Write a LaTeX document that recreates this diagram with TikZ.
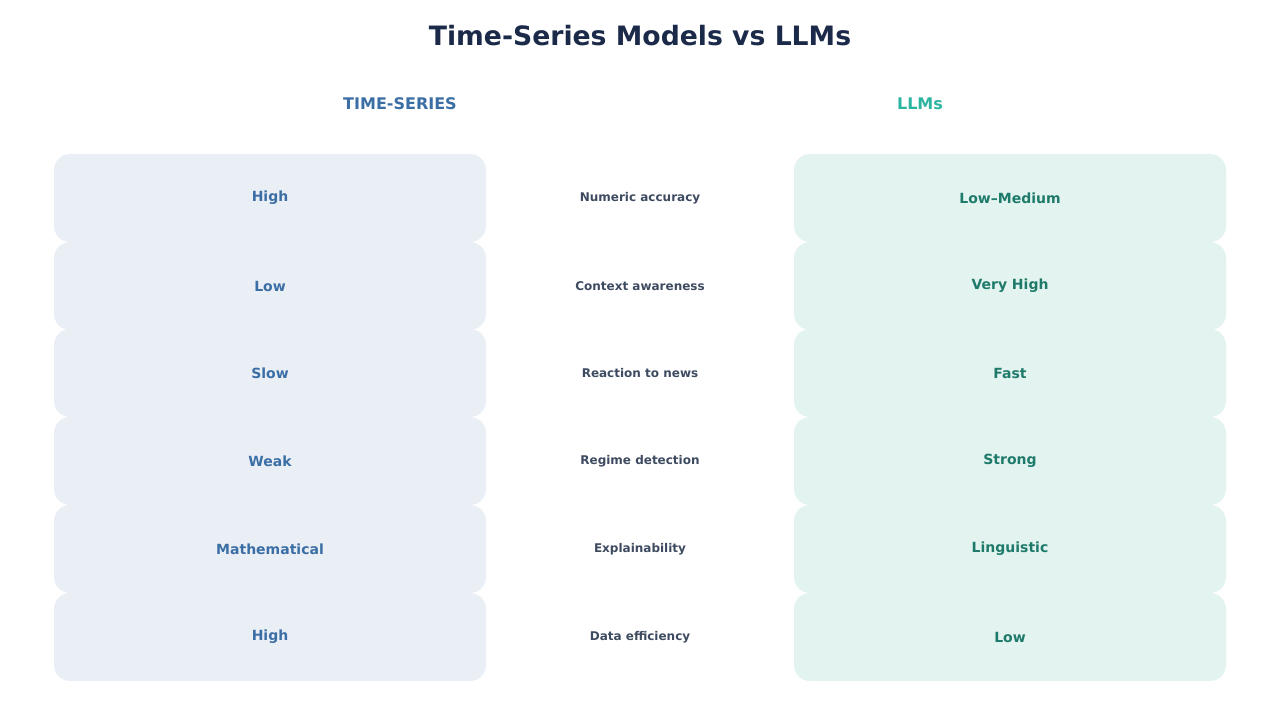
\documentclass[tikz,border=0pt]{standalone}
\usepackage{fontspec}
\setmainfont{DejaVu Sans}
\definecolor{lfill}{HTML}{EAEFF6}
\definecolor{ltext}{HTML}{3A6EA5}
\definecolor{rfill}{HTML}{E3F3EF}
\definecolor{rtext}{HTML}{1E7A6A}
\definecolor{rhead}{HTML}{2BB5A0}
\definecolor{ttl}{HTML}{1C2A4A}
\definecolor{mid}{HTML}{3D4A60}
\begin{document}
\begin{tikzpicture}[x=0.75pt,y=-0.75pt,
  lbox/.style={fill=lfill,rounded corners=12pt,minimum width=324pt,minimum height=66pt,inner sep=0pt,text=ltext,font=\bfseries\fontsize{10.5}{12}\selectfont},
  rbox/.style={fill=rfill,rounded corners=12pt,minimum width=324pt,minimum height=66pt,inner sep=0pt,text=rtext,font=\bfseries\fontsize{10.5}{12}\selectfont},
  midlbl/.style={text=mid,font=\bfseries\fontsize{9}{11}\selectfont}]
\useasboundingbox (0,0) rectangle (1280,720);
\node[text=ttl,font=\bfseries\fontsize{20}{24}\selectfont] (title) at (640,36) {Time-Series Models vs LLMs};
\node[text=ltext,font=\bfseries\fontsize{12}{14}\selectfont] (hl) at (400,104) {TIME-SERIES};
\node[text=rhead,font=\bfseries\fontsize{12}{14}\selectfont] (hr) at (920,104) {LLMs};
\foreach \y/\a/\m/\b/\n in {198/High/Numeric accuracy/Low–Medium/1,286/Low/Context awareness/Very High/2,373/Slow/Reaction to news/Fast/3,461/Weak/Regime detection/Strong/4,549/Mathematical/Explainability/Linguistic/5,637/High/Data efficiency/Low/6}{
  \node[lbox] (l\n) at (270,\y) {\a};
  \node[rbox] (r\n) at (1010,\y) {\b};
  \node[midlbl] (m\n) at (640,\y) {\m};
}
\end{tikzpicture}
\end{document}
